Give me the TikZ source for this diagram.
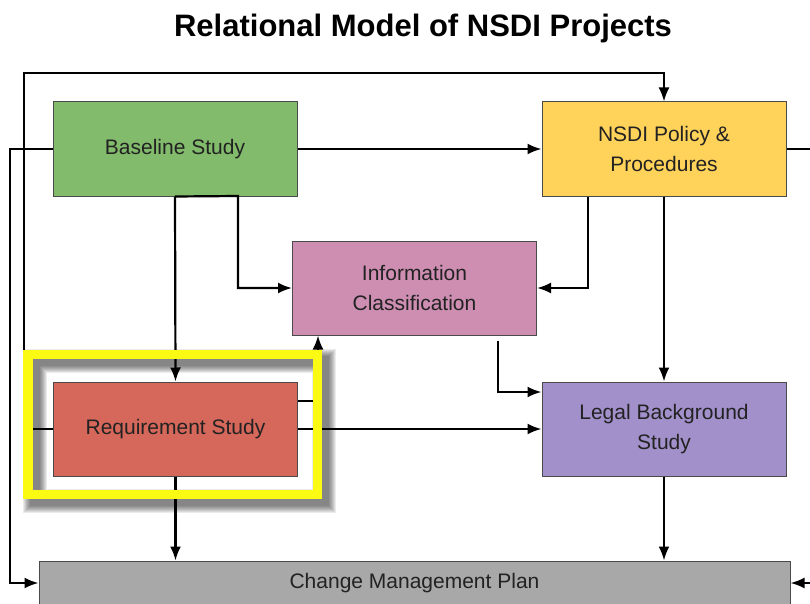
\documentclass[tikz,border=0pt]{standalone}
\usepackage{fontspec}
\setmainfont{Liberation Sans}
\usetikzlibrary{arrows.meta, positioning}
\definecolor{baseGreen}{HTML}{82BB6B}
\definecolor{policyYellow}{HTML}{FFD25A}
\definecolor{infoPink}{HTML}{CD8EB1}
\definecolor{reqRed}{HTML}{D5685A}
\definecolor{legalPurple}{HTML}{A290CB}
\definecolor{changeGrey}{HTML}{A8A8A8}
\definecolor{boxEdge}{HTML}{4A4A4A}
\definecolor{textDark}{HTML}{222222}
\definecolor{markYellow}{HTML}{FAFA12}

\begin{document}
\begin{tikzpicture}[x=1pt, y=-1pt,
		box/.style={draw=boxEdge, line width=1pt, minimum width=244pt, minimum height=94pt,
			inner sep=0pt, align=center, text=textDark, font=\fontsize{21}{30}\selectfont},
		link/.style={line width=2.2pt, draw=black, -{Latex[length=14pt,width=11pt]}}]
	
	\useasboundingbox (0,0) rectangle (810,604);
	\clip (0,0) rectangle (810,604);
	
	% Title
	\node (title) at (423,28) {\fontsize{31}{36}\selectfont\bfseries Relational Model of NSDI Projects};
	
	% Project boxes
	\node[box, fill=baseGreen] (base) at (175,149) {Baseline Study};
	\node[box, fill=policyYellow] (policy) at (664,149) {NSDI Policy \&\\Procedures};
	\node[box, fill=infoPink] (info) at (414.5,288) {Information\\Classification};
	\node[box, fill=reqRed] (req) at (175.5,429) {Requirement Study};
	\node[box, fill=legalPurple] (legal) at (664,429) {Legal Background\\Study};
	\node[box, fill=changeGrey, minimum width=751pt, minimum height=44pt] (change) at (414.5,583) {Change Management Plan};
	
	% Loops round the left side
	\draw[link] (req.west) -| (24,73) -| (policy.north);
	\draw[link] (base.west) -| (10,583) -- (change.west);
	
	% Loop round the right side (runs off the page)
	\draw[link] (policy.east) -- (830,149) -- (830,583) -- (change.east);
	
	% From the baseline study
	\draw[link] (base.east) -- (policy.west);
	\draw[link] (base.south) -- (req.north);
	\draw[link] (base.south) -- (238,196) |- (info.west);
	
	% From the policy
	\draw[link] ([xshift=-76pt]policy.south) |- (info.east);
	\draw[link] (policy.south) -- (legal.north);
	
	% From the classification
	\draw[link] ([xshift=83.5pt,yshift=-5pt]info.south) |- ([yshift=37pt]legal.west);
	
	% From the requirement study
	\draw[link] (req.east) -- (legal.west);
	\draw[link] ([yshift=28pt]req.east) -| ([xshift=-96.5pt]info.south);
	\draw[link] (req.south) -- (req.south |- change.north);
	\draw[link] (legal.south) -- (legal.south |- change.north);
	
	% Highlight frame with its shadow
	\foreach \w in {1,...,8}
		\draw[black, opacity=0.08, line width={(8+2*\w)*1pt}] (34.5,361) rectangle (324,501);
	\draw[markYellow, line width=9.5pt] (28,354.5) rectangle (317.5,494.5);
	
\end{tikzpicture}
\end{document}
